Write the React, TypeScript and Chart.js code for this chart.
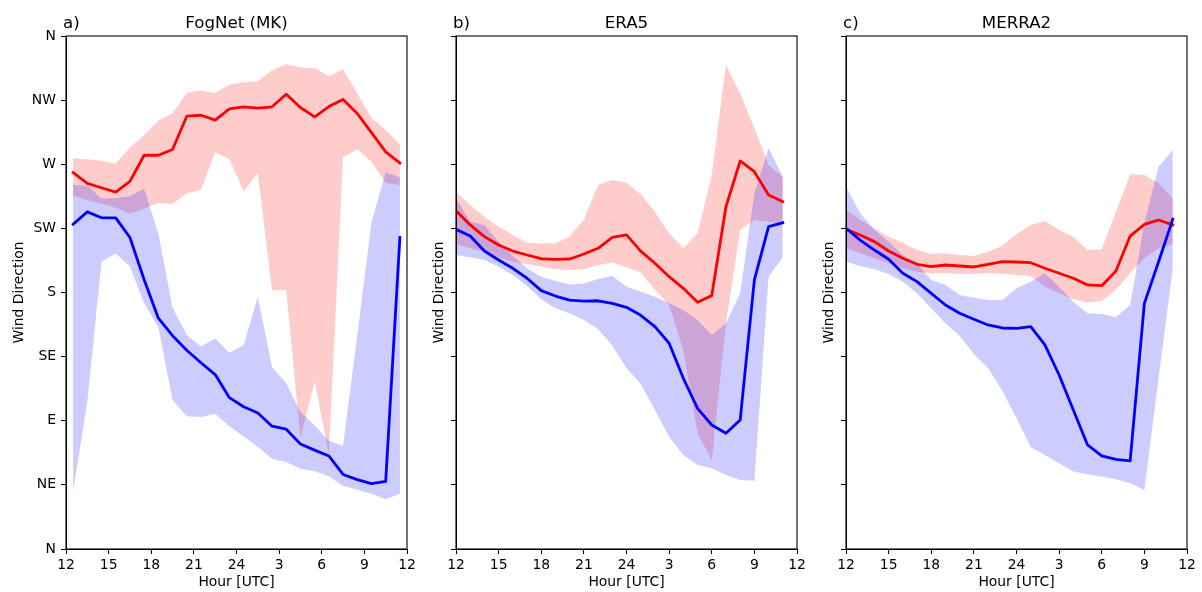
import React, { useEffect, useRef } from 'react';
import { Chart, registerables } from 'chart.js';

Chart.register(...registerables);

// ---------- tick labels ----------
const HOUR_TICKS = ['12', '15', '18', '21', '24', '3', '6', '9', '12'];
const DIR_TICKS = ['N', 'NE', 'E', 'SE', 'S', 'SW', 'W', 'NW', 'N'];

// ---------- hours (offset from 12 UTC) ----------
const FOGNET_HOURS = [0.5, 1.5, 2.5, 3.5, 4.5, 5.5, 6.5, 7.5, 8.5, 9.5, 10.5, 11.5, 12.5, 13.5, 14.5, 15.5, 16.5, 17.5, 18.5, 19.5, 20.5, 21.5, 22.5, 23.5];
const REANALYSIS_HOURS = [0, 1, 2, 3, 4, 5, 6, 7, 8, 9, 10, 11, 12, 13, 14, 15, 16, 17, 18, 19, 20, 21, 22, 23];

// ---------- a) FogNet (MK) ----------
const FOGNET_RED = [264.2, 256.6, 253.5, 250.4, 258.0, 276.3, 276.3, 280.4, 303.7, 304.4, 301.0, 308.9, 310.3, 309.4, 310.3, 319.1, 309.8, 303.2, 310.5, 315.5, 305.6, 292.2, 278.7, 270.9];
const FOGNET_RED_HI = [274.0, 273.5, 272.5, 270.4, 281.8, 290.6, 300.6, 305.6, 320.0, 321.7, 320.0, 325.8, 327.6, 328.1, 336.0, 340.2, 337.9, 337.6, 331.7, 336.7, 319.6, 302.5, 293.9, 283.9];
const FOGNET_RED_LO = [248.3, 244.7, 242.4, 239.5, 235.2, 238.8, 242.8, 242.1, 249.5, 252.1, 278.5, 273.5, 251.1, 263.7, 181.5, 181.5, 77.9, 117.6, 66.5, 274.9, 280.6, 271.8, 256.8, 255.4];
const FOGNET_BLUE = [227.9, 236.6, 232.4, 232.4, 218.6, 188.9, 162.0, 149.7, 139.5, 130.7, 122.4, 106.2, 99.8, 95.5, 86.2, 84.1, 73.7, 69.4, 65.3, 52.3, 48.7, 45.9, 47.5, 218.6];
const FOGNET_BLUE_HI = [255.7, 254.9, 245.9, 246.4, 247.6, 253.0, 221.0, 169.4, 150.2, 142.1, 147.8, 137.8, 143.0, 177.0, 127.8, 116.4, 96.2, 86.7, 76.0, 72.5, 150.0, 229.3, 264.4, 260.9];
const FOGNET_BLUE_LO = [40.4, 103.4, 201.5, 207.4, 198.4, 172.3, 155.6, 104.5, 93.1, 92.7, 95.0, 86.2, 78.9, 71.8, 63.4, 61.1, 56.3, 54.6, 51.1, 44.4, 41.6, 38.7, 34.9, 38.7];

// ---------- b) ERA5 ----------
const ERA5_RED = [237.4, 227.4, 219.2, 213.3, 209.1, 206.3, 203.7, 203.3, 203.5, 207.0, 211.0, 218.7, 220.4, 209.0, 200.5, 191.1, 182.9, 173.1, 177.8, 240.2, 272.3, 264.8, 248.4, 243.7];
const ERA5_RED_HI = [250.7, 241.4, 233.2, 226.2, 220.4, 215.0, 214.3, 214.5, 219.2, 231.4, 255.4, 259.0, 257.0, 249.0, 236.7, 221.5, 211.0, 221.5, 262.5, 339.6, 319.8, 295.2, 269.5, 261.3];
const ERA5_RED_LO = [214.0, 211.0, 208.6, 204.7, 201.6, 200.0, 198.1, 196.3, 195.8, 196.3, 199.3, 201.0, 197.7, 194.0, 181.8, 171.2, 139.6, 81.2, 62.5, 158.4, 223.9, 230.9, 229.7, 228.5];
const ERA5_BLUE = [224.3, 219.6, 209.1, 202.8, 197.0, 190.0, 181.3, 177.5, 174.7, 174.0, 174.2, 172.4, 169.6, 164.0, 156.0, 144.4, 119.8, 98.7, 87.0, 81.2, 90.5, 188.8, 226.2, 229.0];
const ERA5_BLUE_HI = [246.1, 229.7, 227.4, 215.7, 205.6, 197.0, 191.1, 188.1, 185.7, 186.4, 189.5, 191.6, 184.1, 180.5, 177.1, 172.4, 167.7, 160.7, 150.2, 158.4, 179.4, 249.6, 281.2, 261.3];
const ERA5_BLUE_LO = [206.3, 204.7, 202.8, 198.1, 192.3, 184.6, 175.2, 168.9, 165.4, 160.7, 154.4, 142.6, 127.1, 116.0, 97.5, 78.8, 66.0, 58.9, 56.6, 51.9, 48.4, 47.9, 191.1, 204.7];

// ---------- c) MERRA2 ----------
const MERRA2_RED = [224.3, 220.4, 215.7, 209.1, 204.0, 199.8, 198.1, 199.3, 198.6, 197.9, 199.8, 201.6, 201.4, 200.9, 197.0, 193.5, 190.0, 185.3, 184.8, 195.1, 219.6, 227.8, 230.9, 227.4];
const MERRA2_RED_HI = [238.4, 230.9, 225.1, 219.2, 215.0, 209.8, 207.0, 207.5, 206.3, 205.6, 208.6, 212.8, 221.0, 227.4, 230.2, 223.9, 219.2, 209.8, 210.3, 236.7, 263.0, 262.5, 256.6, 246.1];
const MERRA2_RED_LO = [211.0, 207.5, 204.0, 200.5, 197.0, 194.6, 193.5, 193.5, 193.0, 193.0, 193.5, 193.2, 192.3, 191.6, 184.1, 179.4, 175.2, 172.9, 174.0, 181.8, 193.5, 204.0, 211.0, 214.0];
const MERRA2_BLUE = [225.1, 216.8, 209.8, 203.3, 193.5, 187.6, 179.4, 171.2, 165.4, 161.2, 157.2, 155.1, 154.8, 156.0, 143.2, 122.1, 97.5, 73.0, 65.3, 62.9, 61.8, 172.4, 201.6, 231.4];
const MERRA2_BLUE_HI = [254.3, 235.6, 223.9, 215.7, 206.3, 200.5, 188.8, 185.3, 178.2, 176.4, 174.7, 174.7, 183.0, 187.6, 193.5, 184.1, 173.5, 165.4, 164.9, 162.6, 171.2, 229.0, 268.3, 280.0];
const MERRA2_BLUE_LO = [201.6, 198.6, 196.3, 193.0, 187.6, 179.4, 168.9, 158.4, 149.7, 136.6, 127.1, 111.0, 92.0, 71.5, 66.0, 60.1, 54.3, 52.4, 50.7, 48.9, 46.1, 41.4, 120.0, 197.0];

const FONT = '"DejaVu Sans", "Liberation Sans", sans-serif';

type PanelProps = {
  left: number;
  width: number;
  axisWidth: number;
  rightPad: number;
  tag: string;
  title: string;
  showYLabels: boolean;
  hours: number[];
  red: number[];
  redHi: number[];
  redLo: number[];
  blue: number[];
  blueHi: number[];
  blueLo: number[];
};

const HEIGHT = 592;

function toPts(hours: number[], vals: number[]) {
  return hours.map((h, i) => ({ x: h, y: vals[i] }));
}

function Panel(p: PanelProps) {
  const ref = useRef<HTMLCanvasElement | null>(null);

  useEffect(() => {
    if (!ref.current) return;
    const band = (vals: number[], fill: any, color: string) => ({
      data: toPts(p.hours, vals),
      borderColor: 'rgba(0,0,0,0)',
      borderWidth: 0,
      pointRadius: 0,
      backgroundColor: color,
      fill,
      tension: 0,
    });
    const line = (vals: number[], color: string) => ({
      data: toPts(p.hours, vals),
      borderColor: color,
      borderWidth: 2.8,
      pointRadius: 0,
      fill: false,
      tension: 0,
      borderJoinStyle: 'round' as const,
      borderCapStyle: 'square' as const,
    });

    const framePlugin = {
      id: 'frameAndTitle',
      afterDraw(chart: any) {
        const { ctx, chartArea } = chart;
        ctx.save();
        ctx.strokeStyle = '#000';
        ctx.lineWidth = 1.1;
        ctx.strokeRect(chartArea.left, chartArea.top, chartArea.right - chartArea.left, chartArea.bottom - chartArea.top);
        ctx.fillStyle = '#000';
        ctx.font = `16.67px ${FONT}`;
        ctx.textBaseline = 'alphabetic';
        ctx.textAlign = 'left';
        ctx.fillText(p.tag, chartArea.left - 3, 28);
        ctx.textAlign = 'center';
        ctx.fillText(p.title, (chartArea.left + chartArea.right) / 2, 28);
        ctx.restore();
      },
    };

    const tickFont = { family: FONT, size: 13.9 };

    const chart = new Chart(ref.current, {
      type: 'line',
      data: {
        datasets: [
          line(p.blue, '#0000ff'),
          line(p.red, '#ff0000'),
          band(p.blueHi, '+1', 'rgba(0,0,255,0.2)'),
          band(p.blueLo, false, 'rgba(0,0,0,0)'),
          band(p.redHi, '+1', 'rgba(255,0,0,0.2)'),
          band(p.redLo, false, 'rgba(0,0,0,0)'),
        ] as any,
      },
      options: {
        animation: false,
        responsive: false,
        maintainAspectRatio: false,
        layout: { padding: { left: 0, right: p.rightPad, top: 36, bottom: 0 } },
        plugins: {
          legend: { display: false },
          tooltip: { enabled: false },
          filler: { drawTime: 'beforeDatasetsDraw', propagate: false },
        } as any,
        scales: {
          x: {
            type: 'linear',
            min: 0,
            max: 24,
            ticks: {
              stepSize: 3,
              autoSkip: false,
              maxRotation: 0,
              color: '#000',
              font: tickFont,
              padding: 3,
              callback: (v: any) => HOUR_TICKS[Math.round(Number(v) / 3)] ?? '',
            },
            grid: { display: true, drawOnChartArea: false, drawTicks: true, tickLength: 5, color: '#000', lineWidth: 1 },
            border: { display: true, color: '#000', width: 1 },
            title: { display: true, text: 'Hour [UTC]', color: '#000', font: tickFont, padding: { top: 0, bottom: 1 } },
            afterFit: (s: any) => {
              s.height = 43;
            },
          },
          y: {
            type: 'linear',
            min: 0,
            max: 360,
            ticks: {
              stepSize: 45,
              autoSkip: false,
              color: '#000',
              font: tickFont,
              padding: 5,
              callback: (v: any) => (p.showYLabels ? DIR_TICKS[Math.round(Number(v) / 45)] ?? '' : ''),
            },
            grid: { display: true, drawOnChartArea: false, drawTicks: true, tickLength: 5, color: '#000', lineWidth: 1 },
            border: { display: true, color: '#000', width: 1 },
            title: { display: true, text: 'Wind Direction', color: '#000', font: tickFont, padding: { top: 10.7, bottom: 0 } },
            afterFit: (s: any) => {
              s.width = p.axisWidth;
            },
          },
        } as any,
      },
      plugins: [framePlugin],
    });
    return () => chart.destroy();
  }, []);

  return (
    <canvas
      ref={ref}
      width={p.width}
      height={HEIGHT}
      style={{ position: 'absolute', left: p.left, top: 0, width: p.width, height: HEIGHT }}
    />
  );
}

export default function App() {
  return (
    <div style={{ position: 'absolute', left: 0, top: 0, width: 1202, height: 592, background: '#fff' }}>
      <Panel
        left={0}
        width={420}
        axisWidth={66}
        rightPad={13}
        tag="a)"
        title="FogNet (MK)"
        showYLabels={true}
        hours={FOGNET_HOURS}
        red={FOGNET_RED}
        redHi={FOGNET_RED_HI}
        redLo={FOGNET_RED_LO}
        blue={FOGNET_BLUE}
        blueHi={FOGNET_BLUE_HI}
        blueLo={FOGNET_BLUE_LO}
      />
      <Panel
        left={420}
        width={390}
        axisWidth={36}
        rightPad={13}
        tag="b)"
        title="ERA5"
        showYLabels={false}
        hours={REANALYSIS_HOURS}
        red={ERA5_RED}
        redHi={ERA5_RED_HI}
        redLo={ERA5_RED_LO}
        blue={ERA5_BLUE}
        blueHi={ERA5_BLUE_HI}
        blueLo={ERA5_BLUE_LO}
      />
      <Panel
        left={810}
        width={392}
        axisWidth={36}
        rightPad={15}
        tag="c)"
        title="MERRA2"
        showYLabels={false}
        hours={REANALYSIS_HOURS}
        red={MERRA2_RED}
        redHi={MERRA2_RED_HI}
        redLo={MERRA2_RED_LO}
        blue={MERRA2_BLUE}
        blueHi={MERRA2_BLUE_HI}
        blueLo={MERRA2_BLUE_LO}
      />
    </div>
  );
}
